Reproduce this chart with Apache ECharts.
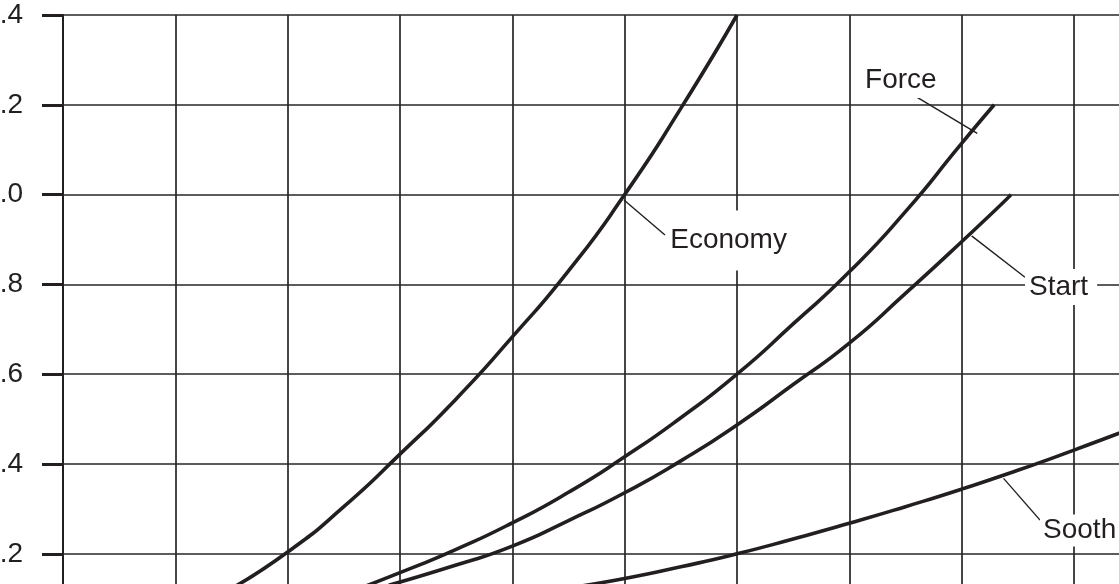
<!DOCTYPE html>
<html>
<head>
<meta charset="utf-8">
<script src="https://cdn.jsdelivr.net/npm/echarts@6/dist/echarts.min.js"></script>
<style>
  html, body { margin: 0; padding: 0; background: #fff; }
  #chart { width: 1119px; height: 584px; }
</style>
</head>
<body>
<div id="chart"></div>
<script>
// ---- data (x in grid units, y in axis values) ----
const economyX = [1.5, 2.0, 2.5, 3.0, 3.5, 4.0, 4.5, 5.0, 5.5, 6.0];
const economyY = [0.123, 0.204, 0.305, 0.422, 0.545, 0.683, 0.83, 1.0, 1.192, 1.4];

const forceX = [2.5, 3.0, 3.5, 4.0, 4.5, 5.0, 5.5, 6.0, 6.5, 7.0, 7.5, 8.0, 8.29];
const forceY = [0.11, 0.158, 0.21, 0.269, 0.337, 0.416, 0.503, 0.6, 0.712, 0.828, 0.962, 1.114, 1.2];

const startX = [2.9, 3.5, 4.0, 4.5, 5.0, 5.5, 6.0, 6.5, 7.0, 7.5, 8.0, 8.44];
const startY = [0.130, 0.175, 0.217, 0.274, 0.336, 0.407, 0.487, 0.577, 0.669, 0.78, 0.895, 1.0];

const soothX = [4.5, 5.0, 5.5, 6.0, 6.5, 7.0, 7.5, 8.0, 8.5, 9.0, 9.5];
const soothY = [0.124, 0.145, 0.171, 0.2, 0.233, 0.268, 0.305, 0.344, 0.386, 0.431, 0.478];

const seriesNames = ['Economy', 'Force', 'Start', 'Sooth'];
const yMin = 0, yMax = 1.4, yStep = 0.2;
const xMin = 0, xMax = 10, xStep = 1;

const INK = '#231f20';
const pair = (xs, ys) => xs.map((x, i) => [x, ys[i]]);

function curve(name, data, leader, anchor, padding) {
  return {
    name: name,
    type: 'line',
    data: data,
    smooth: 0.6,
    showSymbol: false,
    symbol: 'none',
    lineStyle: { color: INK, width: 3.6 },
    silent: true,
    z: 3,
    markLine: {
      silent: true,
      symbol: ['none', 'none'],
      label: { show: false },
      lineStyle: { color: INK, width: 1.4, type: 'solid' },
      data: [[{ coord: leader[0] }, { coord: leader[1] }]]
    },
    markPoint: {
      silent: true,
      symbol: 'rect',
      symbolSize: 1,
      itemStyle: { color: 'rgba(0,0,0,0)' },
      label: {
        show: true,
        position: 'inside',
        align: 'left',
        verticalAlign: 'middle',
        formatter: name,
        color: INK,
        fontFamily: 'Liberation Sans, Arial, sans-serif',
        fontSize: 28,
        backgroundColor: '#ffffff',
        padding: padding
      },
      data: [{ coord: anchor }]
    }
  };
}

const chart = echarts.init(document.getElementById('chart'), null, { renderer: 'canvas' });
chart.setOption({
  animation: false,
  backgroundColor: '#ffffff',
  grid: { left: 63, top: 15, width: 1123.3, height: 628.6, containLabel: false, outerBoundsMode: 'none' },
  xAxis: {
    type: 'value', min: xMin, max: xMax, interval: xStep,
    axisLine: { show: false }, axisTick: { show: false }, axisLabel: { show: false },
    splitLine: { show: true, lineStyle: { color: '#262626', width: 1.7 } }
  },
  yAxis: {
    type: 'value', min: yMin, max: yMax, interval: yStep,
    axisLine: { show: true, lineStyle: { color: INK, width: 2 } },
    axisTick: { show: true, length: 21, lineStyle: { color: INK, width: 3 } },
    axisLabel: {
      show: true, margin: 40, color: INK, fontSize: 28,
      fontFamily: 'Liberation Sans, Arial, sans-serif',
      formatter: v => v.toFixed(1)
    },
    splitLine: { show: true, lineStyle: { color: '#262626', width: 1.7 } }
  },
  series: [
    curve(seriesNames[0], pair(economyX, economyY), [[4.994, 0.988], [5.359, 0.910]], [5.37, 0.898], [16, 6, 16, 4]),
    curve(seriesNames[1], pair(forceX, forceY), [[7.534, 1.227], [8.139, 1.1365]], [7.105, 1.255], [4, 4, 4, 4]),
    curve(seriesNames[2], pair(startX, startY), [[8.089, 0.908], [8.564, 0.816]], [8.564, 0.794], [4, 9, 4, 4]),
    curve(seriesNames[3], pair(soothX, soothY), [[8.373, 0.368], [8.698, 0.275]], [8.698, 0.252], [2, 4, 2, 3])
  ]
});
</script>
</body>
</html>
